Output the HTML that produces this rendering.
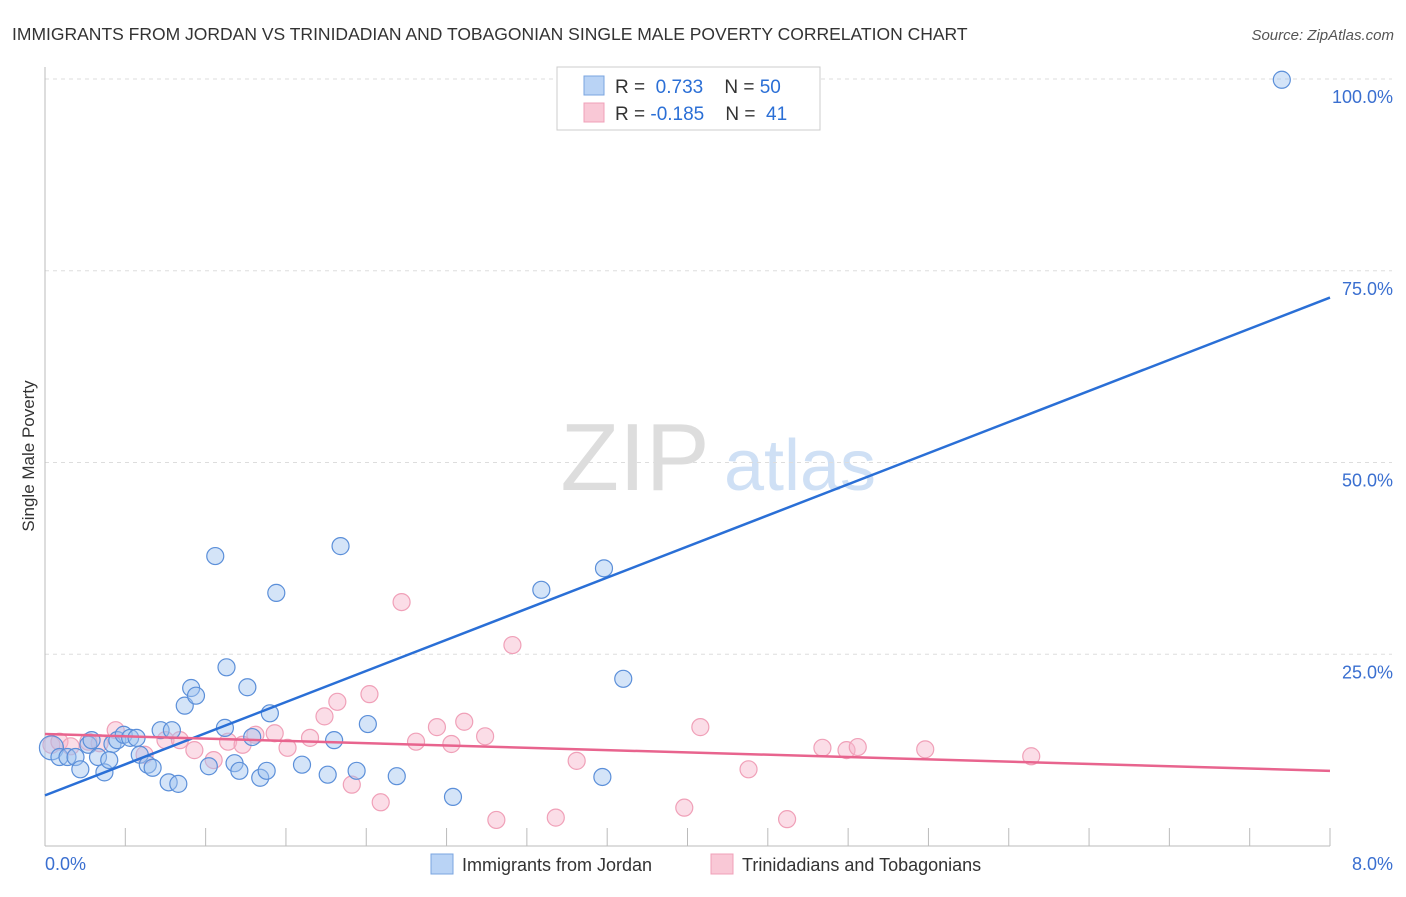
<!DOCTYPE html>
<html><head><meta charset="utf-8"><style>
body{margin:0;background:#fff;font-family:"Liberation Sans",sans-serif;}
svg text{font-family:"Liberation Sans",sans-serif;}
</style></head><body>
<svg id="chart" width="1406" height="892" xmlns="http://www.w3.org/2000/svg">
<text x="12" y="40" font-size="17.5" fill="#333">IMMIGRANTS FROM JORDAN VS TRINIDADIAN AND TOBAGONIAN SINGLE MALE POVERTY CORRELATION CHART</text>
<text x="1394" y="40" font-size="15" fill="#555" font-style="italic" text-anchor="end">Source: ZipAtlas.com</text>
<g>
<text x="635" y="490" font-size="96" fill="#ddd" font-family="Liberation Serif" text-anchor="middle">ZIP</text>
<text x="800" y="490" font-size="72" fill="#cfe0f5" text-anchor="middle">atlas</text>
</g>
<g id="grid"></g>
<g id="axes"></g>
<g id="pts"></g>
<g id="trends"></g>
<g>
<rect x="557" y="67" width="263" height="63" fill="#fff" stroke="#ccc"/>
<rect x="584" y="76" width="20" height="19" fill="#b9d3f5" stroke="#7aa5e0"/>
<rect x="584" y="103" width="20" height="19" fill="#f9c8d6" stroke="#f0a0b8"/>
<text x="615" y="93" font-size="19" fill="#333">R = <tspan fill="#2b6fd6">&#160;0.733</tspan>&#160;&#160;&#160;&#160;N = <tspan fill="#2b6fd6">50</tspan></text>
<text x="615" y="120" font-size="19" fill="#333">R = <tspan fill="#2b6fd6">-0.185</tspan>&#160;&#160;&#160;&#160;N = <tspan fill="#2b6fd6">&#160;41</tspan></text>
</g>
<text transform="translate(34,456) rotate(-90)" font-size="17" fill="#333" text-anchor="middle">Single Male Poverty</text>
<text x="45" y="870" font-size="18" fill="#3a6fd0">0.0%</text>
<text x="1393" y="870" font-size="18" fill="#3a6fd0" text-anchor="end">8.0%</text>
<g>
<rect x="431" y="854" width="22" height="20" fill="#b9d3f5" stroke="#7aa5e0"/>
<text x="462" y="871" font-size="18" fill="#333">Immigrants from Jordan</text>
<rect x="711" y="854" width="22" height="20" fill="#f9c8d6" stroke="#f0a0b8"/>
<text x="742" y="871" font-size="18" fill="#333">Trinidadians and Tobagonians</text>
</g>
</svg>
<script>
const yTicks=[25,50,75,100];
const yTickLabels=["25.0%","50.0%","75.0%","100.0%"];
const xTicks=[0,1,2,3,4,5,6,7,8];
const blueX=[0.04,0.09,0.14,0.19,0.22,0.27,0.29,0.33,0.37,0.42,0.45,0.49,0.53,0.57,0.59,0.64,0.67,0.72,0.77,0.79,0.83,0.87,0.91,0.94,1.02,1.06,1.12,1.13,1.18,1.21,1.26,1.29,1.34,1.38,1.40,1.44,1.60,1.76,1.80,1.84,1.94,2.01,2.19,2.54,3.09,3.47,3.48,3.60,7.70,0.40];
const blueY=[12.8,11.6,11.6,11.6,10.0,13.2,13.8,11.6,9.6,13.3,13.8,14.5,14.1,14.1,11.9,10.6,10.2,15.1,8.3,15.1,8.1,18.3,20.6,19.6,10.4,37.8,15.4,23.3,10.8,9.8,20.7,14.2,8.9,9.8,17.3,33.0,10.6,9.3,13.8,39.1,9.8,15.9,9.1,6.4,33.4,9.0,36.2,21.8,99.9,11.2];
const pinkX=[0.04,0.09,0.16,0.27,0.34,0.44,0.62,0.75,0.84,0.93,1.05,1.14,1.23,1.31,1.43,1.51,1.65,1.74,1.82,1.91,2.02,2.09,2.22,2.31,2.44,2.53,2.61,2.74,2.81,2.91,3.18,3.31,3.98,4.08,4.38,4.62,4.84,4.99,5.06,5.48,6.14];
const pinkY=[13.2,13.6,13.0,13.6,13.4,15.1,11.9,13.8,13.8,12.5,11.2,13.6,13.2,14.5,14.7,12.8,14.1,16.9,18.8,8.0,19.8,5.7,31.8,13.6,15.5,13.3,16.2,14.3,3.4,26.2,3.7,11.1,5.0,15.5,10.0,3.5,12.8,12.5,12.9,12.6,11.7];
const blueTrend=[6.6,71.5];
const pinkTrend=[14.6,9.8];
const NS="http://www.w3.org/2000/svg";
const X0=45,X1=1330,Y0=846,Y100=79;
function sx(v){return X0+v/8*(X1-X0);}
function sy(v){return Y0-v/100*(Y0-Y100);}
function mk(tag,attrs,parent){const e=document.createElementNS(NS,tag);for(const k in attrs)e.setAttribute(k,attrs[k]);document.getElementById(parent).appendChild(e);return e;}
yTicks.forEach((t,i)=>{
 const l=mk('line',{x1:X0,x2:1392,y1:sy(t),y2:sy(t),stroke:'#ddd','stroke-dasharray':'4,4'},'grid');
 
 
 const tx=mk('text',{x:1393,y:sy(t)+24,'font-size':18,fill:'#3a6fd0','text-anchor':'end'},'grid');
 tx.textContent=yTickLabels[i];
 
 
});
const ya=mk('line',{x1:X0,x2:X0,y1:67,y2:Y0,stroke:'#bbb'},'axes');


const xa=mk('line',{x1:X0,x2:X1,y1:Y0,y2:Y0,stroke:'#bbb'},'axes');


xTicks.forEach(t=>{
 const l=mk('line',{x1:sx(t),x2:sx(t),y1:828,y2:Y0,stroke:'#bbb'},'axes');
 
 
});
[0.5,1.5,2.5,3.5,4.5,5.5,6.5,7.5].forEach(t=>{
 const l=mk('line',{x1:sx(t),x2:sx(t),y1:828,y2:Y0,stroke:'#bbb'},'axes');
 
 
});
pinkX.forEach((x,i)=>{
 const c=mk('circle',{cx:sx(x),cy:sy(pinkY[i]),r:8.5,fill:'rgba(247,180,202,0.45)',stroke:'#f0a0b8','stroke-width':1.2},'pts');
 
 
});
blueX.forEach((x,i)=>{
 const c=mk('circle',{cx:sx(x),cy:sy(blueY[i]),r:i===0?12:8.5,fill:'rgba(160,196,240,0.45)',stroke:'#5b8fd9','stroke-width':1.2},'pts');
 
 
});
const bt=mk('line',{x1:sx(0),y1:sy(blueTrend[0]),x2:sx(8),y2:sy(blueTrend[1]),stroke:'#2a6fd6','stroke-width':2.5},'trends');


const pt=mk('line',{x1:sx(0),y1:sy(pinkTrend[0]),x2:sx(8),y2:sy(pinkTrend[1]),stroke:'#e8648e','stroke-width':2.5},'trends');


</script>
</body></html>
